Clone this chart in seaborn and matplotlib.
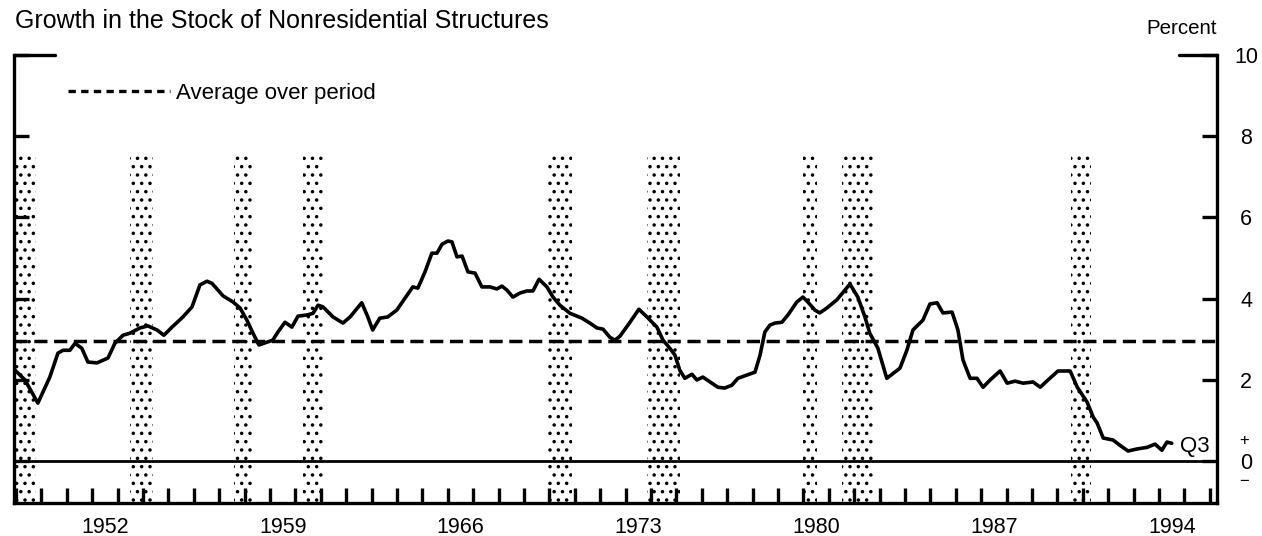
import numpy as np
import pandas as pd
import seaborn as sns
import matplotlib.pyplot as plt
from matplotlib.lines import Line2D
from matplotlib import transforms

# quarterly growth in nonresidential structures stock
years = [1948.96, 1949.35, 1949.86, 1950.33, 1950.65, 1950.85, 1951.12, 1951.32, 1951.59, 1951.83,
         1952.19, 1952.62, 1952.89, 1953.21, 1953.48, 1953.88, 1954.19, 1954.55, 1954.82, 1955.14,
         1955.57, 1955.93, 1956.24, 1956.52, 1956.71, 1957.15, 1957.54, 1957.82, 1958.09, 1958.33,
         1958.56, 1958.88, 1959.11, 1959.31, 1959.59, 1959.86, 1960.10, 1960.46, 1960.69, 1960.89,
         1961.08, 1961.48, 1961.87, 1962.15, 1962.61, 1962.85, 1963.04, 1963.32, 1963.63, 1963.99,
         1964.30, 1964.62, 1964.82, 1965.10, 1965.37, 1965.57, 1965.77, 1966.00, 1966.16, 1966.36,
         1966.56, 1966.79, 1967.07, 1967.34, 1967.66, 1967.93, 1968.13, 1968.33, 1968.56, 1968.84,
         1969.11, 1969.35, 1969.59, 1969.90, 1970.14, 1970.41, 1970.81, 1971.28, 1971.59, 1971.87,
         1972.11, 1972.38, 1972.58, 1972.78, 1973.17, 1973.52, 1973.84, 1974.23, 1974.47, 1974.74,
         1974.94, 1975.13, 1975.33, 1975.61, 1975.80, 1976.04, 1976.39, 1976.63, 1976.90, 1977.18,
         1977.42, 1977.77, 1978.09, 1978.29, 1978.48, 1978.68, 1978.88, 1979.15, 1979.39, 1979.74,
         1979.98, 1980.17, 1980.45, 1980.64, 1980.92, 1981.31, 1981.83, 1982.14, 1982.42, 1982.61,
         1982.93, 1983.28, 1983.80, 1984.07, 1984.31, 1984.70, 1984.98, 1985.26, 1985.49, 1985.85,
         1986.08, 1986.28, 1986.56, 1986.83, 1987.07, 1987.35, 1987.74, 1988.02, 1988.33, 1988.65,
         1989.04, 1989.32, 1989.63, 1990.02, 1990.50, 1990.78, 1991.17, 1991.41, 1991.56, 1991.80,
         1992.19, 1992.46, 1992.78, 1993.13, 1993.53, 1993.84, 1994.11, 1994.31, 1994.50]
growth = [2.24, 2.00, 1.43, 2.07, 2.66, 2.73, 2.73, 2.90, 2.78, 2.44,
          2.42, 2.54, 2.90, 3.10, 3.15, 3.28, 3.33, 3.23, 3.10, 3.30,
          3.55, 3.80, 4.34, 4.43, 4.38, 4.07, 3.92, 3.77, 3.47, 3.15,
          2.86, 2.93, 2.98, 3.18, 3.42, 3.30, 3.57, 3.60, 3.64, 3.84,
          3.80, 3.55, 3.40, 3.55, 3.90, 3.55, 3.23, 3.52, 3.55, 3.72,
          4.00, 4.29, 4.26, 4.66, 5.12, 5.12, 5.34, 5.42, 5.40, 5.03,
          5.05, 4.66, 4.63, 4.29, 4.29, 4.24, 4.31, 4.21, 4.04, 4.14,
          4.19, 4.19, 4.48, 4.29, 4.04, 3.84, 3.64, 3.52, 3.40, 3.28,
          3.25, 3.05, 2.98, 3.08, 3.42, 3.74, 3.55, 3.30, 2.98, 2.78,
          2.61, 2.24, 2.04, 2.14, 2.00, 2.07, 1.92, 1.82, 1.80, 1.87,
          2.04, 2.12, 2.19, 2.61, 3.18, 3.35, 3.40, 3.42, 3.60, 3.92,
          4.04, 3.92, 3.72, 3.65, 3.77, 3.97, 4.36, 4.04, 3.55, 3.15,
          2.78, 2.04, 2.29, 2.73, 3.23, 3.47, 3.87, 3.90, 3.65, 3.67,
          3.23, 2.49, 2.04, 2.04, 1.82, 2.00, 2.22, 1.92, 1.97, 1.92,
          1.95, 1.82, 2.00, 2.22, 2.22, 1.82, 1.45, 1.08, 0.94, 0.57,
          0.52, 0.39, 0.25, 0.30, 0.34, 0.42, 0.27, 0.47, 0.44]
average = 2.95

# recessions (shaded)
rec_start = [1948.92, 1953.5, 1957.6, 1960.3, 1969.95, 1973.85, 1980.0, 1981.5, 1990.55]
rec_end = [1949.8, 1954.4, 1958.3, 1961.1, 1970.9, 1975.15, 1980.55, 1982.75, 1991.3]
shade_top = 7.6

year_labels = [1952, 1959, 1966, 1973, 1980, 1987, 1994]

sns.set_style('white')
plt.rcParams['font.family'] = ['Liberation Sans', 'DejaVu Sans']
plt.rcParams['hatch.linewidth'] = 1.3
for key in ['text.color', 'axes.labelcolor', 'xtick.color', 'ytick.color']:
    plt.rcParams[key] = 'black'

fig = plt.figure(figsize=(12.62, 5.36), dpi=100)
ax = fig.add_axes([14 / 1262, 1 - 503 / 536, 1203 / 1262, 448 / 536])

ymin, ymax = -1.03, 10
ax.set_xlim(1948.92, 1996.28)
ax.set_ylim(ymin, ymax)

for s, e in zip(rec_start, rec_end):
    ax.axvspan(s, e, ymin=0, ymax=(shade_top - ymin) / (ymax - ymin),
               facecolor='none', edgecolor='black', hatch='..', lw=0)

ax.axhline(0, color='black', lw=2)
ax.axhline(average, color='black', lw=2.5, ls=(0, (3.8, 1.9)))

df = pd.DataFrame({'year': years, 'growth': growth})
sns.lineplot(data=df, x='year', y='growth', color='black', lw=2.6, ax=ax)

ax.annotate('Q3', xy=(years[-1], growth[-1]), xytext=(6, -2), textcoords='offset points',
            va='center', ha='left', fontsize=16)

# frame
for side in ['left', 'right', 'bottom']:
    ax.spines[side].set_linewidth(2.4)
    ax.spines[side].set_color('black')
ax.spines['top'].set_visible(False)
ax.plot([0, 0.034], [1, 1], transform=ax.transAxes, color='black', lw=2.4, clip_on=False)
ax.plot([0.968, 1], [1, 1], transform=ax.transAxes, color='black', lw=2.4, clip_on=False)

# y axis on the right
ax.set_yticks(range(0, 11, 2))
ax.set_yticklabels([str(v) for v in range(0, 11, 2)])
ax.tick_params(axis='y', left=True, right=True, labelleft=False, labelright=True,
               direction='in', length=11, width=2.4, pad=21, labelsize=15.5)
for lab in ax.get_yticklabels():
    lab.set_ha('center')
tr = transforms.blended_transform_factory(ax.transAxes, ax.transData)
ax.text(1.0225, 0.52, '+', transform=tr, ha='center', va='center', fontsize=12)
ax.text(1.0225, -0.5, '\u2212', transform=tr, ha='center', va='center', fontsize=12)

# x axis: year ticks at boundaries, labels mid-year
ax.set_xticks([y + 0.5 for y in year_labels])
ax.set_xticklabels([str(y) for y in year_labels])
ax.set_xticks(range(1949, 1997), minor=True)
ax.tick_params(axis='x', which='major', length=0, pad=10, labelsize=15.5)
ax.tick_params(axis='x', which='minor', bottom=True, direction='in', length=11, width=2.4)
ax.set_xlabel('')
ax.set_ylabel('')

leg_handle = Line2D([], [], color='black', lw=2.4, ls=(0, (2.2, 1.6)))
ax.legend(handles=[leg_handle], labels=['Average over period'], loc='center left',
          bbox_to_anchor=(0.045, 0.915), frameon=False, borderpad=0, borderaxespad=0,
          handlelength=4.6, handletextpad=0.25, fontsize=16)

fig.text(15 / 1262, 1 - 21 / 536, 'Growth in the Stock of Nonresidential Structures',
         ha='left', va='center', fontsize=18)
fig.text(1217 / 1262, 1 - 28 / 536, 'Percent', ha='right', va='center', fontsize=14.8)

fig.savefig('out.png', dpi=100)
